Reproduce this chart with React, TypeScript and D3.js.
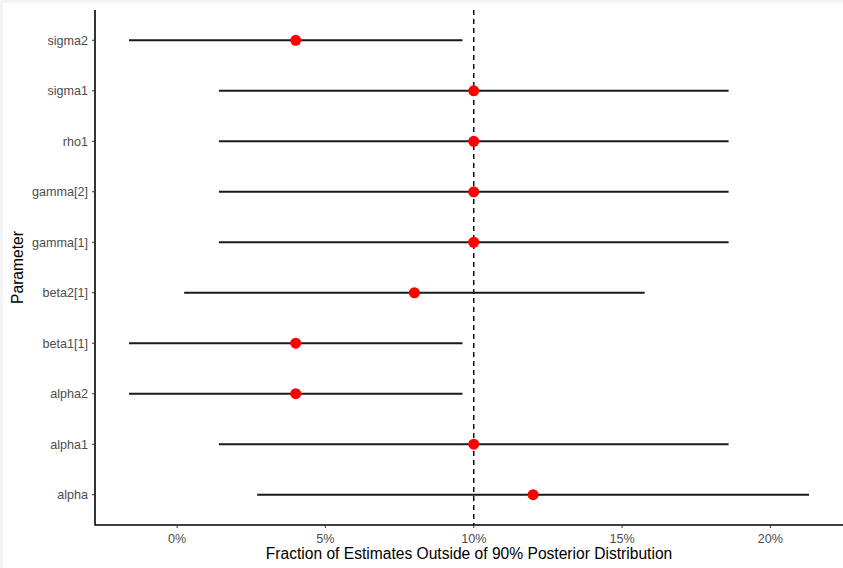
import React from "react";
import * as d3 from "d3";

const params = ["alpha", "alpha1", "alpha2", "beta1[1]", "beta2[1]", "gamma[1]", "gamma[2]", "rho1", "sigma1", "sigma2"];
const estimate = [12, 10, 4, 4, 8, 10, 10, 10, 10, 4];
const lower = [2.7, 1.41, -1.62, -1.62, 0.24, 1.41, 1.41, 1.41, 1.41, -1.62];
const upper = [21.3, 18.59, 9.62, 9.62, 15.76, 18.59, 18.59, 18.59, 18.59, 9.62];
const xTicks = [0, 5, 10, 15, 20];
const refLine = 10;

const W = 843, H = 568;
const margin = { left: 95, right: 0, top: 10, bottom: 43 };

export default function App() {
  const x0 = margin.left, x1 = W - margin.right;
  const y0 = margin.top, y1 = H - margin.bottom;
  const minV = d3.min(lower)!, maxV = d3.max(upper)!;
  const pad = (maxV - minV) * 0.05;
  const x = d3.scaleLinear().domain([minV - pad, maxV + pad]).range([x0, x1]);
  const y = d3.scaleLinear().domain([0.4, params.length + 0.6]).range([y1, y0]);
  const font = "'Liberation Sans', Arial, sans-serif";
  return (
    <svg width={W} height={H} style={{ position: "absolute", left: 0, top: 0 }} fontFamily={font}>
      <rect x={0} y={0} width={W} height={H} fill="#f4f4f4" />
      <rect x={3} y={3} width={W - 3} height={H - 3} fill="#ffffff" />
      <line x1={x(refLine)} x2={x(refLine)} y1={y0} y2={y1} stroke="#000" strokeWidth={1.4} strokeDasharray="5,4" />
      {params.map((p, i) => (
        <g key={p}>
          <line x1={x(lower[i])} x2={x(upper[i])} y1={y(i + 1)} y2={y(i + 1)} stroke="#1a1a1a" strokeWidth={2} />
          <circle cx={x(estimate[i])} cy={y(i + 1)} r={5.5} fill="#ff0000" />
        </g>
      ))}
      <line x1={x0} x2={x0} y1={y0} y2={y1 + 0.5} stroke="#000" strokeWidth={1.6} />
      <line x1={x0} x2={x1} y1={y1} y2={y1} stroke="#000" strokeWidth={1.6} />
      {params.map((p, i) => (
        <g key={"t" + p}>
          <line x1={x0 - 3} x2={x0} y1={y(i + 1)} y2={y(i + 1)} stroke="#333" strokeWidth={1} />
          <text x={x0 - 7} y={y(i + 1)} dy="0.35em" textAnchor="end" fontSize={12.6} fill="#4d4d4d">{p}</text>
        </g>
      ))}
      {xTicks.map((t) => (
        <g key={"x" + t}>
          <line x1={x(t)} x2={x(t)} y1={y1} y2={y1 + 3} stroke="#333" strokeWidth={1} />
          <text x={x(t)} y={y1 + 18} textAnchor="middle" fontSize={12.6} fill="#4d4d4d">{t + "%"}</text>
        </g>
      ))}
      <text x={(x0 + x1) / 2} y={y1 + 34} textAnchor="middle" fontSize={15.6} fill="#000">
        Fraction of Estimates Outside of 90% Posterior Distribution
      </text>
      <text transform={`translate(23,${(y0 + y1) / 2}) rotate(-90)`} textAnchor="middle" fontSize={15.6} fill="#000">
        Parameter
      </text>
    </svg>
  );
}
